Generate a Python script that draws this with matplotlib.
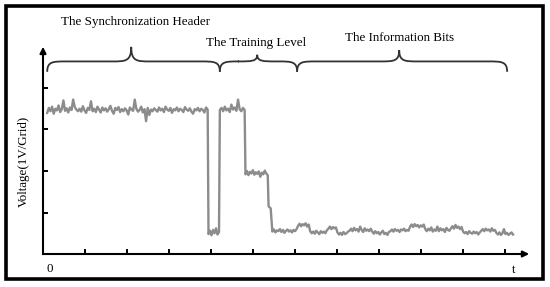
import numpy as np
import matplotlib
matplotlib.use("Agg")
import matplotlib.pyplot as plt
from matplotlib.path import Path
from matplotlib.patches import PathPatch, Rectangle

plt.rcParams["font.family"] = ["Liberation Serif", "DejaVu Serif"]

# time span of each part of the trace (grid units) and the sampled voltages
seg_times = [(0.10, 3.92), (3.94, 4.19), (4.21, 4.80), (4.82, 5.35), (5.37, 5.42), (5.46, 11.19)]

sync_high = [3.40, 3.52, 3.44, 3.55, 3.38, 3.50, 3.46, 3.58, 3.42, 3.49, 3.70, 3.45, 3.51, 3.41, 3.53, 3.47, 3.72, 3.54, 3.48, 3.44,
             3.50, 3.43, 3.56, 3.46, 3.40, 3.52, 3.47, 3.68, 3.44, 3.50, 3.42, 3.55, 3.48, 3.41, 3.53, 3.46, 3.51, 3.43, 3.49, 3.57,
             3.45, 3.38, 3.52, 3.47, 3.54, 3.42, 3.49, 3.44, 3.51, 3.46, 3.36, 3.53, 3.48, 3.45, 3.72, 3.50, 3.43, 3.47, 3.55, 3.41,
             3.49, 3.20, 3.52, 3.35, 3.48, 3.44, 3.51, 3.47, 3.43, 3.53, 3.46, 3.50, 3.42, 3.55, 3.48, 3.45, 3.52, 3.40, 3.49, 3.46,
             3.53, 3.44, 3.50, 3.47, 3.42, 3.54, 3.48, 3.45, 3.51, 3.43, 3.38, 3.49, 3.46, 3.52, 3.44, 3.50, 3.47, 3.41, 3.53, 3.48]
sync_low = [0.48, 0.56, 0.45, 0.58, 0.50, 0.62, 0.47, 0.53]
train_high = [3.47, 3.52, 3.44, 3.55, 3.46, 3.50, 3.42, 3.60, 3.48, 3.53, 3.45, 3.72, 3.49, 3.44, 3.52, 3.47]
train_mid = [1.92, 2.00, 1.90, 1.98, 1.94, 2.02, 1.91, 1.97, 1.93, 1.99, 1.86, 1.96, 1.92, 2.01, 1.94, 1.90]
train_step = [1.15, 1.10]
info_bits = [0.54, 0.59, 0.52, 0.57, 0.55, 0.60, 0.53, 0.58, 0.51, 0.56, 0.59, 0.54, 0.57, 0.52, 0.58, 0.55, 0.60,
             0.68, 0.73, 0.67, 0.72, 0.69, 0.74, 0.66, 0.71,
             0.55, 0.50, 0.54, 0.49, 0.56, 0.52, 0.48, 0.55, 0.51, 0.54, 0.50, 0.57,
             0.61, 0.66, 0.60, 0.65, 0.62, 0.64,
             0.52, 0.47, 0.51, 0.46, 0.53, 0.48, 0.50, 0.54,
             0.56, 0.61, 0.55, 0.63, 0.57, 0.60, 0.54, 0.66, 0.58, 0.53, 0.62, 0.56, 0.59, 0.55, 0.61,
             0.54, 0.49, 0.55, 0.50, 0.53, 0.47, 0.52, 0.56, 0.48, 0.51, 0.46, 0.53,
             0.55, 0.59, 0.54, 0.60, 0.56, 0.58, 0.53, 0.59, 0.57, 0.61, 0.55, 0.58, 0.56,
             0.66, 0.71, 0.65, 0.72, 0.67, 0.70, 0.64, 0.69, 0.66, 0.71,
             0.60, 0.55, 0.61, 0.57, 0.64, 0.54, 0.59, 0.56, 0.66, 0.55, 0.62, 0.57, 0.60, 0.53, 0.63, 0.58, 0.56,
             0.62, 0.67, 0.61, 0.70, 0.63, 0.66, 0.60, 0.65,
             0.54, 0.50, 0.53, 0.48, 0.55, 0.51, 0.49, 0.54, 0.50, 0.53, 0.47, 0.52,
             0.56, 0.60, 0.55, 0.61, 0.57, 0.59, 0.54, 0.62, 0.56, 0.58,
             0.51, 0.47, 0.52, 0.46, 0.50, 0.60, 0.48, 0.51, 0.46, 0.49, 0.52, 0.47]
segments = [sync_high, sync_low, train_high, train_mid, train_step, info_bits]

# brace labels: (start, end, cusp x, cusp y, text, text x, text y)
braces = [(0.10, 4.21, 2.10, 4.99, "The Synchronization Header", 2.19, 5.59),
          (4.21, 6.05, 5.10, 4.80, "The Training Level", 5.07, 5.08),
          (6.05, 11.05, 8.48, 4.91, "The Information Bits", 8.48, 5.20)]

fig = plt.figure(figsize=(5.5, 2.87), dpi=100)
ax = fig.add_axes([0, 0, 1, 1])
ax.set_xlim(-1.024, 12.07)
ax.set_ylim(-0.795, 6.12)

# the trace
t_all, v_all = [], []
for (t0, t1), vals in zip(seg_times, segments):
    t_all.extend(np.linspace(t0, t1, len(vals)))
    v_all.extend(vals)
ax.plot(t_all, v_all, color="#8c8c8c", lw=1.7)

# axes through the origin, with arrows
for side in ["top", "right"]:
    ax.spines[side].set_visible(False)
ax.spines["left"].set_position(("data", 0))
ax.spines["bottom"].set_position(("data", 0))
ax.spines["left"].set_bounds(0, 4.9)
ax.spines["bottom"].set_bounds(0, 11.5)
for side in ["left", "bottom"]:
    ax.spines[side].set_linewidth(1.5)
ax.set_xticks(range(1, 12))
ax.set_yticks(range(1, 5))
ax.tick_params(direction="in", length=3.5, width=1.4, labelbottom=False, labelleft=False)
ax.annotate("", xy=(11.64, 0), xytext=(11.3, 0),
            arrowprops=dict(arrowstyle="-|>", color="k", lw=1.5, mutation_scale=9))
ax.annotate("", xy=(0, 5.06), xytext=(0, 4.7),
            arrowprops=dict(arrowstyle="-|>", color="k", lw=1.5, mutation_scale=9))

ax.text(0.17, -0.36, "0", fontsize=9.4, ha="center", va="center")
ax.text(11.21, -0.39, "t", fontsize=9.4, ha="center", va="center")
ax.text(-0.45, 2.22, "Voltage(1V/Grid)", fontsize=9.4, rotation=90, ha="center", va="center")

# curly braces over each part
y_end, y_bar, w = 4.39, 4.64, 0.45
for x0, x1, xm, ytop, label, tx, ty in braces:
    verts = [(x0, y_end),
             (x0, y_bar), (x0 + 0.3 * w, y_bar), (x0 + w, y_bar),
             (xm - w, y_bar),
             (xm - 0.3 * w, y_bar), (xm, y_bar), (xm, ytop),
             (xm, y_bar), (xm + 0.3 * w, y_bar), (xm + w, y_bar),
             (x1 - w, y_bar),
             (x1 - 0.3 * w, y_bar), (x1, y_bar), (x1, y_end)]
    codes = [Path.MOVETO,
             Path.CURVE4, Path.CURVE4, Path.CURVE4,
             Path.LINETO,
             Path.CURVE4, Path.CURVE4, Path.CURVE4,
             Path.CURVE4, Path.CURVE4, Path.CURVE4,
             Path.LINETO,
             Path.CURVE4, Path.CURVE4, Path.CURVE4]
    ax.add_patch(PathPatch(Path(verts, codes), fill=False, ec="#333333", lw=1.3))
    ax.text(tx, ty, label, fontsize=9.4, ha="center", va="center")

# thick frame round the whole picture
fig.patches.append(Rectangle((6 / 550, 8 / 287), 537 / 550, 273 / 287, transform=fig.transFigure,
                             fill=False, ec="black", lw=2.6))

fig.savefig("out.png", dpi=100)
